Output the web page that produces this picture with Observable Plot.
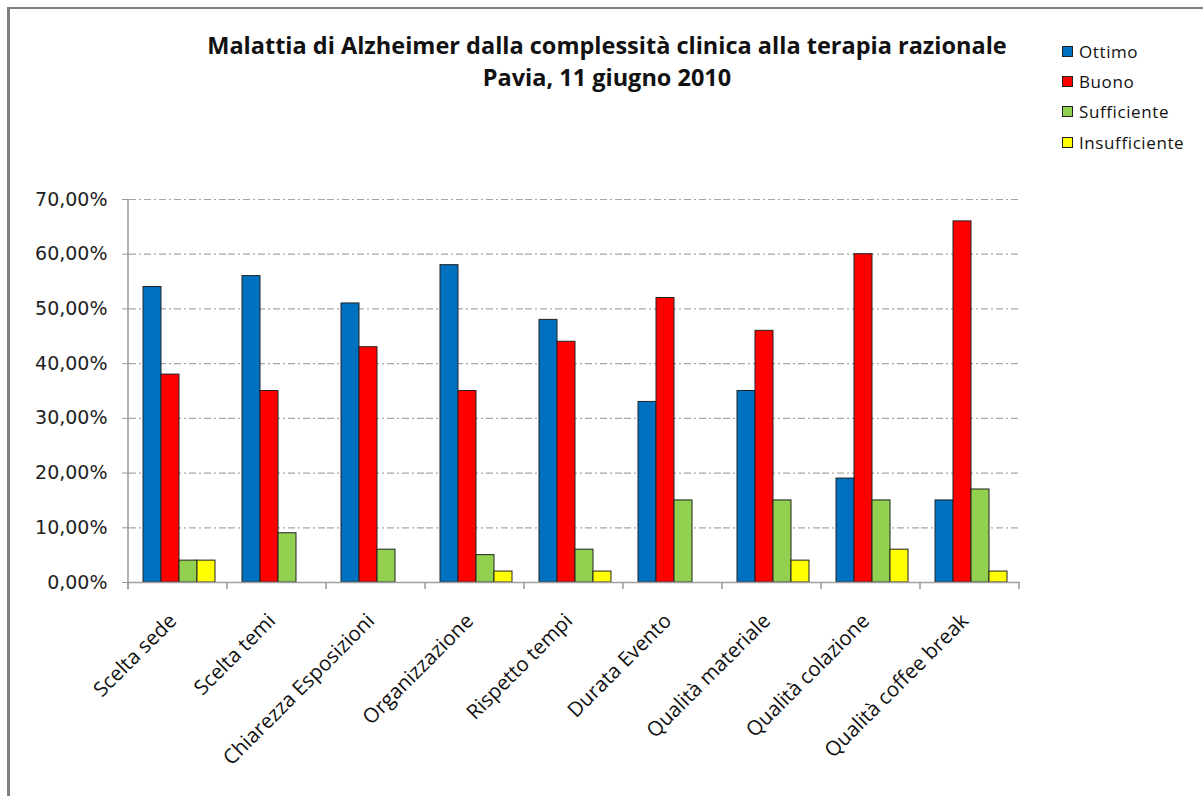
<!DOCTYPE html>
<html><head><meta charset="utf-8">
<script src="https://cdn.jsdelivr.net/npm/d3@7"></script>
<script src="https://cdn.jsdelivr.net/npm/@observablehq/plot@0.6"></script>
<style>
body{margin:0;background:#fff;}
#wrap{position:relative;width:1203px;height:796px;overflow:hidden;background:#fff;}
#border{position:absolute;left:7px;top:7px;width:1300px;height:900px;border-left:3px solid #808080;border-top:2px solid #808080;box-sizing:border-box;}
#title{position:absolute;left:0;width:1214px;top:29px;text-align:center;font-family:"Open Sans";font-weight:700;font-size:23.5px;line-height:32px;color:#111;}
#legend{position:absolute;left:1062px;top:36px;font-family:"Open Sans";font-size:17px;letter-spacing:0.6px;color:#111;}
.li{display:flex;align-items:center;height:30.3px;}
.sw{width:9px;height:9px;border:1px solid #222;margin-right:6px;}
#chart{position:absolute;left:0;top:0;}
</style></head>
<body>
<div id="wrap">
  <div id="border"></div>
  <div id="chart"></div>
  <div id="title"></div>
  <div id="legend"></div>
</div>
<script>
const titleLines = ["Malattia di Alzheimer dalla complessità clinica alla terapia razionale", "Pavia, 11 giugno 2010"];
const categories = ["Scelta sede","Scelta temi","Chiarezza Esposizioni","Organizzazione","Rispetto tempi","Durata Evento","Qualità materiale","Qualità colazione","Qualità coffee break"];
const series = ["Ottimo","Buono","Sufficiente","Insufficiente"];
const colors = ["#0070C0","#FF0000","#92D050","#FFFF00"];
const ottimo        = [0.54,0.56,0.51,0.58,0.48,0.33,0.35,0.19,0.15];
const buono         = [0.38,0.35,0.43,0.35,0.44,0.52,0.46,0.60,0.66];
const sufficiente   = [0.04,0.09,0.06,0.05,0.06,0.15,0.15,0.15,0.17];
const insufficiente = [0.04,0.00,0.00,0.02,0.02,0.00,0.04,0.06,0.02];
const yTicks = [0,0.1,0.2,0.3,0.4,0.5,0.6,0.7];

const values = [ottimo, buono, sufficiente, insufficiente];
const data = [];
categories.forEach((c, i) => series.forEach((s, j) => {
  if (values[j][i] > 0) data.push({category: c, series: s, value: values[j][i]});
}));

const fmt = d => (d * 100).toFixed(2).replace(".", ",") + "%";

document.getElementById("title").innerHTML = titleLines.map(t => `<div>${t}</div>`).join("");
document.getElementById("legend").innerHTML = series.map((s, j) =>
  `<div class="li"><span class="sw" style="background:${colors[j]}"></span>${s}</div>`).join("");

const plot = Plot.plot({
  width: 1203,
  height: 796,
  marginTop: 199,
  marginBottom: 214,
  marginLeft: 128,
  marginRight: 183,
  style: {background: "transparent", overflow: "visible"},
  fx: {domain: categories, paddingInner: 0, paddingOuter: 0, label: null},
  x: {domain: series, paddingInner: 0, paddingOuter: 0.75, axis: null},
  y: {domain: [0, 0.7], label: null},
  color: {domain: series, range: colors},
  marks: [
    Plot.ruleY(yTicks.slice(1), {stroke: "#a6a6a6", strokeWidth: 1.2, strokeDasharray: "7,3,2,3"}),
    Plot.barY(data, {fx: "category", x: "series", y: "value", fill: "series", stroke: "#222", strokeWidth: 1}),
    Plot.ruleY([0], {stroke: "#a0a0a0", strokeWidth: 1.5}),
    Plot.axisY({ticks: yTicks, tickFormat: fmt, tickSize: 7, tickPadding: 15, stroke: "#999", fontSize: 19, fontFamily: "DejaVu Sans", fill: "#222"}),
    Plot.axisFx({anchor: "bottom", tickRotate: -45, tickSize: 0, tickPadding: 35, dx: -6, fontSize: 20.5, fontFamily: "Open Sans", fill: "#111", label: null})
  ]
});
document.getElementById("chart").appendChild(plot);

// axis lines: y axis line and category boundary ticks, from the plot's scales
const svg = d3.select(plot);
const fx = plot.scale("fx"), y = plot.scale("y");
const y0 = y.apply(0), y1 = y.apply(0.7);
const x0 = fx.range[0];
svg.append("line").attr("x1", x0).attr("x2", x0).attr("y1", y1).attr("y2", y0 + 7)
  .attr("stroke", "#999").attr("stroke-width", 1.5);
for (let i = 0; i <= categories.length; i++) {
  const x = fx.range[0] + i * fx.step;
  svg.append("line").attr("x1", x).attr("x2", x).attr("y1", y0).attr("y2", y0 + 7)
    .attr("stroke", "#999").attr("stroke-width", 1.5);
}
</script>
</body></html>
